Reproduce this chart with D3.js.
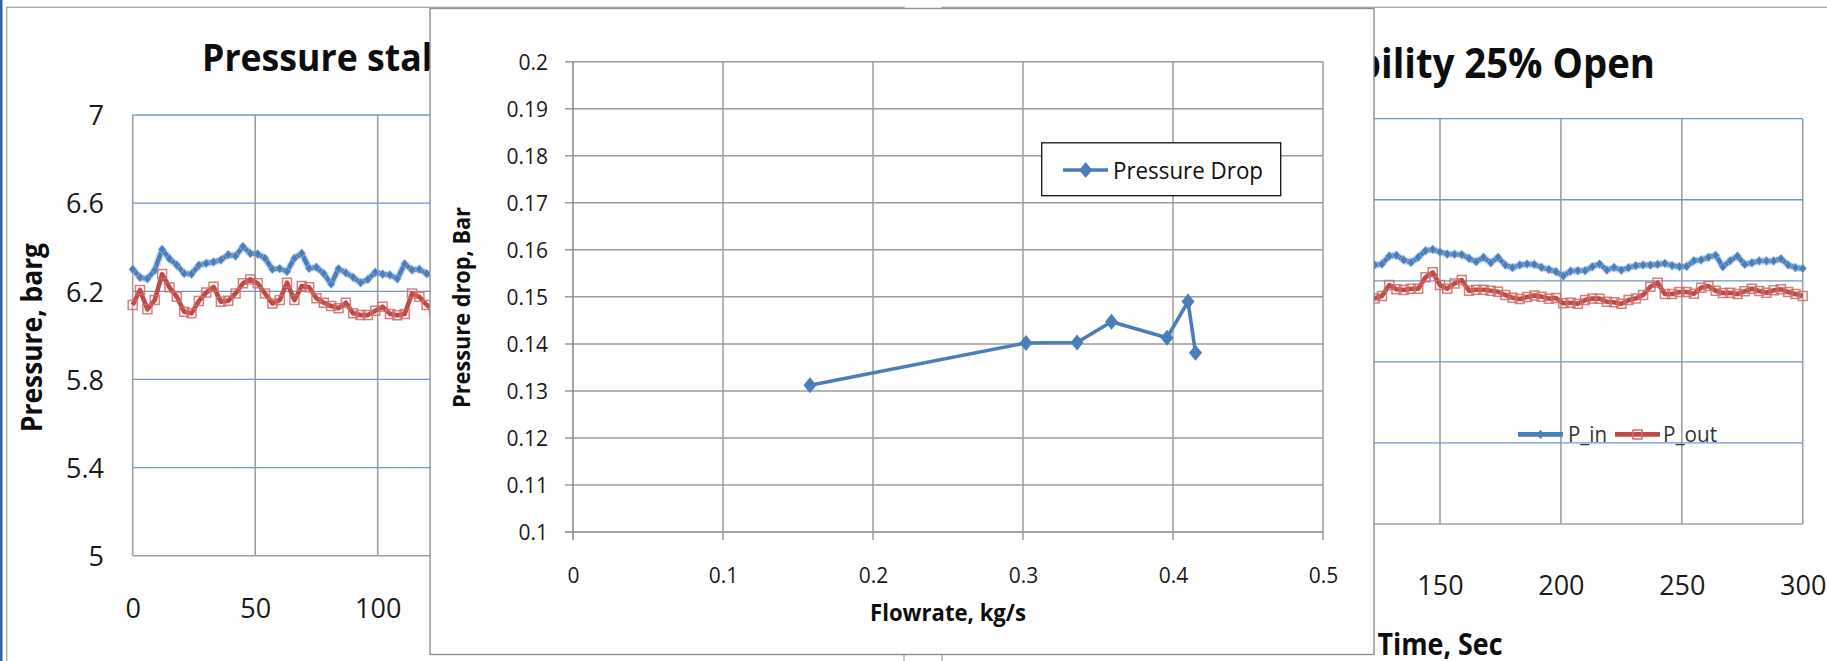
<!DOCTYPE html>
<html>
<head>
<meta charset="utf-8">
<script src="https://cdn.jsdelivr.net/npm/d3@7"></script>
<style>
  html, body { margin: 0; padding: 0; background: #fff; }
  svg { display: block; }
  text { font-family: "Open Sans", "DejaVu Sans", sans-serif; }
</style>
</head>
<body>
<svg id="chart" width="1827" height="661"></svg>
<script>
// ---- Pressure log, one sample every 3 s ----
const timeSec = [0,3,6,9,12,15,18,21,24,27,30,33,36,39,42,45,48,51,54,57,60,63,66,69,72,75,78,81,84,87,90,93,96,99,102,105,108,111,114,117,120,
  123,126,129,132,135,138,141,144,147,150,153,156,159,162,165,168,171,174,177,180,183,186,189,192,195,198,201,204,207,210,
  213,216,219,222,225,228,231,234,237,240,243,246,249,252,255,258,261,264,267,270,273,276,279,282,285,288,291,294,297,300];
const pIn = [6.300,6.263,6.257,6.296,6.390,6.348,6.319,6.281,6.278,6.318,6.327,6.333,6.342,6.366,6.360,6.403,6.372,6.369,6.350,6.300,
  6.303,6.290,6.350,6.372,6.304,6.309,6.280,6.233,6.302,6.284,6.263,6.239,6.254,6.286,6.278,6.274,6.257,6.324,6.297,6.300,6.280,
  6.278,6.283,6.322,6.326,6.303,6.291,6.316,6.349,6.355,6.342,6.332,6.331,6.329,6.311,6.294,6.316,6.289,6.316,6.278,6.265,
  6.278,6.283,6.281,6.266,6.256,6.245,6.224,6.248,6.250,6.250,6.270,6.283,6.253,6.266,6.253,6.265,6.275,6.278,6.278,6.281,
  6.286,6.275,6.270,6.271,6.299,6.303,6.316,6.326,6.270,6.299,6.322,6.281,6.289,6.298,6.298,6.298,6.309,6.278,6.265,6.261];
const pOut = [6.138,6.206,6.118,6.160,6.278,6.218,6.175,6.107,6.100,6.156,6.194,6.220,6.153,6.157,6.190,6.236,6.254,6.236,6.190,6.145,
  6.160,6.239,6.160,6.224,6.218,6.168,6.148,6.133,6.123,6.148,6.100,6.092,6.092,6.112,6.130,6.097,6.091,6.097,6.190,6.175,6.138,
  6.113,6.125,6.179,6.158,6.155,6.161,6.161,6.217,6.242,6.179,6.161,6.187,6.204,6.151,6.156,6.156,6.151,6.146,6.130,6.117,
  6.110,6.120,6.128,6.122,6.112,6.115,6.089,6.092,6.087,6.105,6.113,6.112,6.097,6.094,6.087,6.105,6.113,6.130,6.171,6.191,
  6.135,6.135,6.145,6.145,6.136,6.166,6.174,6.151,6.140,6.141,6.135,6.148,6.161,6.150,6.141,6.153,6.158,6.145,6.135,6.125];
const timeTicks = [0,50,100,150,200,250,300];
const pressureTicks = [5,5.4,5.8,6.2,6.6,7];
const seriesNames = ["P_in","P_out"];
const titleText = "Pressure stability 25% Open";
const timeLabel = "Time, Sec";
const pressureLabel = "Pressure, barg";

// ---- Pressure drop against flow rate ----
const flowRate = [0.158,0.302,0.336,0.359,0.396,0.410,0.415];
const pressureDrop = [0.1312,0.1402,0.1403,0.1447,0.1413,0.1490,0.1381];
const flowTicks = [0,0.1,0.2,0.3,0.4,0.5];
const dropTicks = [0.1,0.11,0.12,0.13,0.14,0.15,0.16,0.17,0.18,0.19,0.2];
const dropSeriesName = "Pressure Drop";
const flowLabel = "Flowrate, kg/s";
const dropLabel = "Pressure drop, Bar";

const BLUE = "#4a7ebb", RED = "#be4b48";
const INSET = { x: 430, y: 8.5, w: 944, h: 646 };   // overlay panel box

const svg = d3.select("#chart");
svg.append("rect").attr("width", 1827).attr("height", 661).attr("fill", "#fff");
svg.append("rect").attr("x", 0).attr("y", 0).attr("width", 2.5).attr("height", 661).attr("fill", "#2b64ad");

const diamond = (hw, hh) => `M0,${-hh}L${hw},0L0,${hh}L${-hw},0Z`;
const square = s => `M${-s},${-s}H${s}V${s}H${-s}Z`;

function stretch(sel, len) {
  sel.attr("textLength", len).attr("lengthAdjust", "spacingAndGlyphs");
}
// true when a point lies outside the overlay panel (so its label stays visible)
const outsideInset = px => px < INSET.x - 4 || px > INSET.x + INSET.w + 4;

// One copy of the time-series chart
function drawTimeChart(L) {
  const g = svg.append("g");
  g.append("rect")
    .attr("x", L.frame[0]).attr("y", L.frame[1])
    .attr("width", L.frame[2] - L.frame[0]).attr("height", L.frame[3] - L.frame[1])
    .attr("fill", "#fff").attr("stroke", "#a8a8a8").attr("stroke-width", 1.3);

  const x = d3.scaleLinear().domain([0, 300]).range([L.x0, L.x1]);
  const y = d3.scaleLinear().domain([5, 7]).range([L.y1, L.y0]);

  g.append("g").selectAll("line").data(timeTicks.slice(1)).join("line")
    .attr("x1", d => x(d)).attr("x2", d => x(d))
    .attr("y1", L.y0).attr("y2", L.y1)
    .attr("stroke", "#a0a0a0").attr("stroke-width", 1.6);
  g.append("g").selectAll("line").data(pressureTicks.slice(1)).join("line")
    .attr("x1", L.x0).attr("x2", L.x1)
    .attr("y1", d => y(d)).attr("y2", d => y(d))
    .attr("stroke", "#6e97cf").attr("stroke-width", 1.3);
  g.append("line").attr("x1", L.x0).attr("x2", L.x0).attr("y1", L.y0).attr("y2", L.y1)
    .attr("stroke", "#a0a0a0").attr("stroke-width", 1.6);
  g.append("line").attr("x1", L.x0).attr("x2", L.x1).attr("y1", L.y1).attr("y2", L.y1)
    .attr("stroke", "#a0a0a0").attr("stroke-width", 1.6);

  const pts = (vals) => timeSec.map((t, i) => [t, vals[i]]);
  const line = d3.line().x(d => x(d[0])).y(d => y(d[1]));

  // inlet pressure
  g.append("path").attr("d", line(pts(pIn))).attr("fill", "none")
    .attr("stroke", "#86a9da").attr("stroke-width", 7.5).attr("stroke-opacity", 0.4)
    .attr("stroke-linejoin", "round");
  g.append("path").attr("d", line(pts(pIn))).attr("fill", "none")
    .attr("stroke", BLUE).attr("stroke-width", 4.6).attr("stroke-linejoin", "round");
  g.append("g").selectAll("path").data(pts(pIn)).join("path")
    .attr("transform", d => `translate(${x(d[0])},${y(d[1])})`)
    .attr("d", diamond(3.8, 4.6)).attr("fill", BLUE)
    .attr("stroke", "#a9c3e6").attr("stroke-width", 0.9).attr("stroke-opacity", 0.7);

  // outlet pressure
  g.append("path").attr("d", line(pts(pOut))).attr("fill", "none")
    .attr("stroke", RED).attr("stroke-width", 4.6).attr("stroke-linejoin", "round");
  g.append("g").selectAll("path").data(pts(pOut)).join("path")
    .attr("transform", d => `translate(${x(d[0])},${y(d[1])})`)
    .attr("d", square(4.5)).attr("fill", "none")
    .attr("stroke", "#d06b69").attr("stroke-width", 1.5).attr("stroke-opacity", 0.85);

  // tick labels (only those not hidden by the overlay panel)
  if (outsideInset(L.x0 - 30)) {
    const yAxis = g.append("g").attr("transform", `translate(${L.x0},0)`)
      .call(d3.axisLeft(y).tickValues(pressureTicks).tickFormat(d3.format("~g")).tickSize(0).tickPadding(L.yPad));
    yAxis.select(".domain").remove();
    yAxis.attr("font-family", "'Open Sans', sans-serif").attr("font-size", L.tickFont).attr("color", "#1a1a1a");
    yAxis.selectAll("text").attr("dy", "0.36em");
  }
  const xAxis = g.append("g").attr("transform", `translate(0,${L.y1})`)
    .call(d3.axisBottom(x).tickValues(timeTicks.filter(d => outsideInset(x(d))))
      .tickFormat(d3.format("d")).tickSize(0).tickPadding(L.xPad));
  xAxis.select(".domain").remove();
  xAxis.attr("font-family", "'Open Sans', sans-serif").attr("font-size", L.tickFont).attr("color", "#1a1a1a");

  // chart title, fitted between the measured glyph positions
  const T = L.title;
  const t = g.append("text").attr("font-weight", 700).attr("font-size", T.fontSize)
    .attr("y", T.baseline).attr("fill", "#0d0d0d").text(titleText);
  const W = t.node().getComputedTextLength();
  const wSplit = t.node().getSubStringLength(0, T.splitIndex);
  let k, tx;
  if (T.mode === "start") { k = (T.splitX - T.x) / wSplit; tx = T.x; }
  else { k = (T.x - T.splitX) / (W - wSplit); tx = T.x - W * k; }
  t.attr("x", tx);
  stretch(t, W * k);

  // axis titles
  if (L.yTitle) {
    const yt = g.append("text")
      .attr("transform", `translate(${L.yTitle.bx},${L.yTitle.cy}) rotate(-90)`)
      .attr("text-anchor", "middle").attr("font-weight", 700)
      .attr("font-size", L.yTitle.fontSize).attr("fill", "#0d0d0d").text(pressureLabel);
    stretch(yt, L.yTitle.length);
  }
  if (L.xTitle) {
    const xt = g.append("text")
      .attr("x", (L.x0 + L.x1) / 2).attr("y", L.xTitle.baseline)
      .attr("text-anchor", "middle").attr("font-weight", 700)
      .attr("font-size", L.xTitle.fontSize).attr("fill", "#0d0d0d").text(timeLabel);
    stretch(xt, L.xTitle.length);
  }

  // legend
  if (L.legend) {
    const Lg = L.legend;
    const lg = g.append("g").attr("font-size", Lg.fontSize).attr("fill", "#333");
    lg.append("line").attr("x1", Lg.x).attr("x2", Lg.x + Lg.lineLen).attr("y1", Lg.y).attr("y2", Lg.y)
      .attr("stroke", BLUE).attr("stroke-width", 4.6);
    lg.append("path").attr("transform", `translate(${Lg.x + Lg.lineLen / 2},${Lg.y})`)
      .attr("d", diamond(3.8, 4.6)).attr("fill", BLUE);
    const l1 = lg.append("text").attr("x", Lg.x + Lg.lineLen + 5).attr("y", Lg.y + Lg.baseOff).text(seriesNames[0]);
    stretch(l1, Lg.w1);
    const x2 = Lg.x + Lg.lineLen + 5 + Lg.w1 + 8;
    lg.append("line").attr("x1", x2).attr("x2", x2 + Lg.lineLen).attr("y1", Lg.y).attr("y2", Lg.y)
      .attr("stroke", RED).attr("stroke-width", 4.6);
    lg.append("path").attr("transform", `translate(${x2 + Lg.lineLen / 2},${Lg.y})`)
      .attr("d", square(4.5)).attr("fill", "none").attr("stroke", "#d06b69").attr("stroke-width", 1.5);
    const l2 = lg.append("text").attr("x", x2 + Lg.lineLen + 3).attr("y", Lg.y + Lg.baseOff).text(seriesNames[1]);
    stretch(l2, Lg.w2);
  }
}

// left copy
drawTimeChart({
  frame: [6.7, 7.3, 904, 760],
  x0: 132.7, x1: 867.7, y0: 115, y1: 555.7,
  tickFont: 27, xPad: 43.6, yPad: 28.7,
  title: { fontSize: 38, baseline: 71, mode: "start", x: 202, splitIndex: 12, splitX: 421.7 },
  yTitle: { fontSize: 28, bx: 41.7, cy: 337.5, length: 189 }
});
// right copy
drawTimeChart({
  frame: [942, 7.3, 1860, 760],
  x0: 1077.3, x1: 1802.7, y0: 118.7, y1: 524,
  tickFont: 27, xPad: 51.8, yPad: 28.7,
  title: { fontSize: 41, baseline: 78, mode: "end", x: 1655, splitIndex: 13, splitX: 1381 },
  xTitle: { fontSize: 30, baseline: 655, length: 125 },
  legend: { x: 1518, y: 434.4, lineLen: 45, fontSize: 21, baseOff: 7.6, w1: 39, w2: 54 }
});

// ---- overlay panel: pressure drop chart ----
const ins = svg.append("g");
ins.append("rect").attr("x", INSET.x).attr("y", INSET.y).attr("width", INSET.w).attr("height", INSET.h)
  .attr("fill", "#fff").attr("stroke", "#8f8f8f").attr("stroke-width", 1.4);

const ix = d3.scaleLinear().domain([0, 0.5]).range([573, 1323]);
const iy = d3.scaleLinear().domain([0.1, 0.2]).range([532, 61.7]);

ins.append("g").selectAll("line").data(dropTicks).join("line")
  .attr("x1", ix(0) - 8).attr("x2", ix(0.5))
  .attr("y1", d => iy(d)).attr("y2", d => iy(d))
  .attr("stroke", d => d === 0.1 ? "#868686" : "#9c9c9c").attr("stroke-width", 1.5);
ins.append("g").selectAll("line").data(flowTicks).join("line")
  .attr("x1", d => ix(d)).attr("x2", d => ix(d))
  .attr("y1", iy(0.2)).attr("y2", iy(0.1) + 8)
  .attr("stroke", d => d === 0 ? "#868686" : "#9c9c9c").attr("stroke-width", 1.5);

const iyAxis = ins.append("g").attr("transform", `translate(${ix(0)},0)`)
  .call(d3.axisLeft(iy).tickValues(dropTicks).tickFormat(d3.format("~g")).tickSize(0).tickPadding(25));
const ixAxis = ins.append("g").attr("transform", `translate(0,${iy(0.1)})`)
  .call(d3.axisBottom(ix).tickValues(flowTicks).tickFormat(d3.format("~g")).tickSize(0).tickPadding(36));
[iyAxis, ixAxis].forEach(a => {
  a.select(".domain").remove();
  a.attr("font-family", "'Open Sans', sans-serif").attr("font-size", 21).attr("color", "#1a1a1a");
});
iyAxis.selectAll("text").attr("dy", "0.36em");

const dropLine = d3.line().x(d => ix(d[0])).y(d => iy(d[1]));
const dropPts = flowRate.map((f, i) => [f, pressureDrop[i]]);
ins.append("path").attr("d", dropLine(dropPts)).attr("fill", "none")
  .attr("stroke", BLUE).attr("stroke-width", 3.6).attr("stroke-linejoin", "round");
ins.append("g").selectAll("path").data(dropPts).join("path")
  .attr("transform", d => `translate(${ix(d[0])},${iy(d[1])})`)
  .attr("d", diamond(6.5, 8)).attr("fill", BLUE);

const iyt = ins.append("text")
  .attr("transform", `translate(470,307.5) rotate(-90)`)
  .attr("text-anchor", "middle").attr("font-weight", 700).attr("font-size", 24)
  .attr("fill", "#0d0d0d").text(dropLabel);
stretch(iyt, 201);
const ixt = ins.append("text")
  .attr("x", ix(0.25)).attr("y", 620.7)
  .attr("text-anchor", "middle").attr("font-weight", 700).attr("font-size", 23.5)
  .attr("fill", "#0d0d0d").text(flowLabel);
stretch(ixt, 156);

// overlay legend
const ilg = ins.append("g");
ilg.append("rect").attr("x", 1041.7).attr("y", 142.8).attr("width", 239).attr("height", 52.9)
  .attr("fill", "#fff").attr("stroke", "#111").attr("stroke-width", 1.3);
ilg.append("line").attr("x1", 1063).attr("x2", 1108).attr("y1", 170).attr("y2", 170)
  .attr("stroke", BLUE).attr("stroke-width", 3.6);
ilg.append("path").attr("transform", "translate(1085.7,170)").attr("d", diamond(6.5, 8)).attr("fill", BLUE);
const ilt = ilg.append("text").attr("x", 1113).attr("y", 178.6).attr("font-size", 24)
  .attr("fill", "#111").text(dropSeriesName);
stretch(ilt, 150);
</script>
</body>
</html>
